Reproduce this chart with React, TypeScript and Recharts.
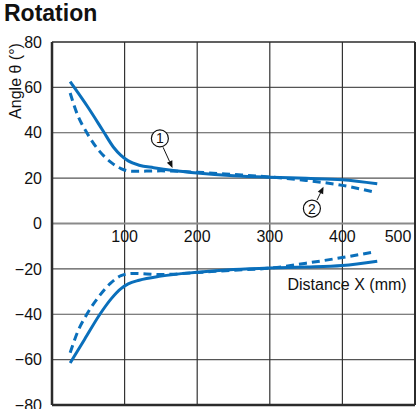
import React from "react";
import {
  LineChart,
  Line,
  XAxis,
  YAxis,
  ReferenceLine,
  ReferenceDot,
} from "recharts";

const xTicks = [0, 100, 200, 300, 400, 500];
const yTicks = [-80, -60, -40, -20, 0, 20, 40, 60, 80];
const xGrid = [100, 200, 300, 400];
const yGrid = [-60, -40, -20, 20, 40, 60];
const xLabelTicks = [100, 200, 300, 400, 500];

const upperSolid = [
  { x: 25, y: 62.5 }, { x: 50, y: 51 }, { x: 70, y: 41 }, { x: 85, y: 33.5 },
  { x: 95, y: 30 }, { x: 105, y: 27.6 }, { x: 120, y: 25.7 }, { x: 140, y: 24.6 },
  { x: 170, y: 23.3 }, { x: 200, y: 22.3 }, { x: 250, y: 21.1 }, { x: 300, y: 20.4 },
  { x: 350, y: 19.9 }, { x: 400, y: 19.3 }, { x: 448, y: 17.5 },
];
const upperDashed = [
  { x: 25, y: 57.5 }, { x: 35, y: 48 }, { x: 48, y: 40 }, { x: 65, y: 32 },
  { x: 80, y: 27.3 }, { x: 95, y: 24.2 }, { x: 110, y: 23 }, { x: 150, y: 23.2 },
  { x: 200, y: 22.6 }, { x: 250, y: 21.6 }, { x: 300, y: 20.5 }, { x: 350, y: 19 },
  { x: 400, y: 16.8 }, { x: 445, y: 13.8 },
];
const lowerSolid = [
  { x: 25, y: -61.5 }, { x: 45, y: -51 }, { x: 66, y: -40 }, { x: 82, y: -33 },
  { x: 95, y: -28.7 }, { x: 105, y: -26.6 }, { x: 120, y: -25 }, { x: 150, y: -23.2 },
  { x: 200, y: -21.5 }, { x: 250, y: -20.3 }, { x: 300, y: -19.6 }, { x: 350, y: -19.2 },
  { x: 400, y: -18.5 }, { x: 448, y: -16.6 },
];
const lowerDashed = [
  { x: 25, y: -57 }, { x: 35, y: -48 }, { x: 48, y: -40 }, { x: 65, y: -32 },
  { x: 80, y: -26.5 }, { x: 95, y: -23 }, { x: 110, y: -22 }, { x: 150, y: -22.5 },
  { x: 200, y: -21.6 }, { x: 250, y: -20.6 }, { x: 300, y: -19.7 }, { x: 350, y: -17.5 },
  { x: 400, y: -15 }, { x: 446, y: -12.4 },
];

const annotations = [
  { label: "1", cx: 148.6, cy: 37.5, from: { x: 153, y: 33.6 }, to: { x: 166, y: 24.5 } },
  { label: "2", cx: 358, cy: 6.6, from: { x: 365, y: 10.3 }, to: { x: 374, y: 16.2 } },
];

const BLUE = "#0a6fbb";
const DARK = "#2b2b2b";

const fmt = (v: number) => (v < 0 ? "\u2212" + Math.abs(v) : String(v));

const ArrowShape = (props: any) => {
  const { x1, y1, x2, y2 } = props;
  if ([x1, y1, x2, y2].some((v) => typeof v !== "number" || isNaN(v))) return null;
  const ang = Math.atan2(y2 - y1, x2 - x1);
  const L = 7;
  const W = 3;
  const bx = x2 - L * Math.cos(ang);
  const by = y2 - L * Math.sin(ang);
  const px = -Math.sin(ang) * W;
  const py = Math.cos(ang) * W;
  return (
    <g>
      <line x1={x1} y1={y1} x2={bx} y2={by} stroke="#111" strokeWidth={1} />
      <polygon
        points={`${x2},${y2} ${bx + px},${by + py} ${bx - px},${by - py}`}
        fill="#111"
      />
    </g>
  );
};

const CircledLabel = (label: string) => (props: any) => {
  const { cx, cy } = props;
  if (typeof cx !== "number" || typeof cy !== "number") return null;
  return (
    <g>
      <circle cx={cx} cy={cy} r={8.5} fill="#fff" stroke="#111" strokeWidth={1.2} />
      <text
        x={cx}
        y={cy}
        dy="0.36em"
        textAnchor="middle"
        fontSize={14}
        fill="#111"
        fontFamily="'Liberation Sans', Arial, sans-serif"
      >
        {label}
      </text>
    </g>
  );
};

export default function App() {
  return (
    <div
      style={{
        position: "absolute",
        left: 0,
        top: 0,
        width: 417,
        height: 409,
        background: "#fff",
        fontFamily: "'Liberation Sans', Arial, sans-serif",
        overflow: "hidden",
      }}
    >
      <div
        style={{
          position: "absolute",
          left: 4,
          top: 2,
          fontSize: 23,
          lineHeight: "23px",
          fontWeight: "bold",
          color: "#111",
        }}
      >
        Rotation
      </div>
      <div
        style={{
          position: "absolute",
          left: 16,
          top: 81,
          transform: "translate(-50%, -50%) rotate(-90deg)",
          fontSize: 16,
          color: "#111",
          whiteSpace: "nowrap",
        }}
      >
        Angle θ (°)
      </div>
      <div style={{ position: "absolute", left: 0, top: 0 }}>
        <LineChart
          width={417}
          height={409}
          margin={{ top: 42, right: 2, bottom: 3, left: 0 }}
        >
          <XAxis
            dataKey="x"
            type="number"
            domain={[0, 500]}
            ticks={xTicks}
            tick={false}
            tickLine={false}
            height={1}
            axisLine={{ stroke: DARK, strokeWidth: 2.5 }}
          />
          <YAxis
            type="number"
            domain={[-80, 80]}
            ticks={yTicks}
            interval={0}
            width={52}
            tickLine={false}
            tickMargin={4}
            tickFormatter={fmt}
            axisLine={{ stroke: DARK, strokeWidth: 2.5 }}
            tick={{ fontSize: 16, fill: "#111" }}
          />
          {yGrid.map((v) => (
            <ReferenceLine key={"h" + v} y={v} stroke="#555" strokeWidth={1.2} />
          ))}
          {xGrid.map((v) => (
            <ReferenceLine key={"v" + v} x={v} stroke="#333" strokeWidth={1.2} />
          ))}
          <ReferenceLine y={0} stroke="#8a8a8a" strokeWidth={2} />
          <ReferenceLine y={80} stroke={DARK} strokeWidth={1.5} />
          <ReferenceLine x={500} stroke={DARK} strokeWidth={2} />
          {xLabelTicks.map((t) => (
            <ReferenceDot
              key={t}
              x={t}
              y={0}
              r={0}
              fill="none"
              stroke="none"
              label={{
                value: String(t),
                position: "bottom",
                offset: 7,
                dx: t === 500 ? -17 : 0,
                fontSize: 16,
                fill: "#111",
              }}
            />
          ))}
          <ReferenceDot
            x={445}
            y={-27}
            r={0}
            fill="none"
            stroke="none"
            label={{
              value: "Distance X (mm)",
              position: "center",
              dx: -28,
              fontSize: 16,
              fill: "#111",
            }}
          />
          <Line data={upperSolid} dataKey="y" type="monotone" stroke={BLUE} strokeWidth={3} dot={false} isAnimationActive={false} />
          <Line data={upperDashed} dataKey="y" type="monotone" stroke={BLUE} strokeWidth={3} strokeDasharray="8 5" dot={false} isAnimationActive={false} />
          <Line data={lowerSolid} dataKey="y" type="monotone" stroke={BLUE} strokeWidth={3} dot={false} isAnimationActive={false} />
          <Line data={lowerDashed} dataKey="y" type="monotone" stroke={BLUE} strokeWidth={3} strokeDasharray="8 5" dot={false} isAnimationActive={false} />
          {annotations.map((a) => (
            <ReferenceLine
              key={a.label + "arrow"}
              segment={[a.from, a.to]}
              shape={ArrowShape}
            />
          ))}
          {annotations.map((a) => (
            <ReferenceDot
              key={a.label}
              x={a.cx}
              y={a.cy}
              r={8}
              shape={CircledLabel(a.label)}
            />
          ))}
        </LineChart>
      </div>
    </div>
  );
}
